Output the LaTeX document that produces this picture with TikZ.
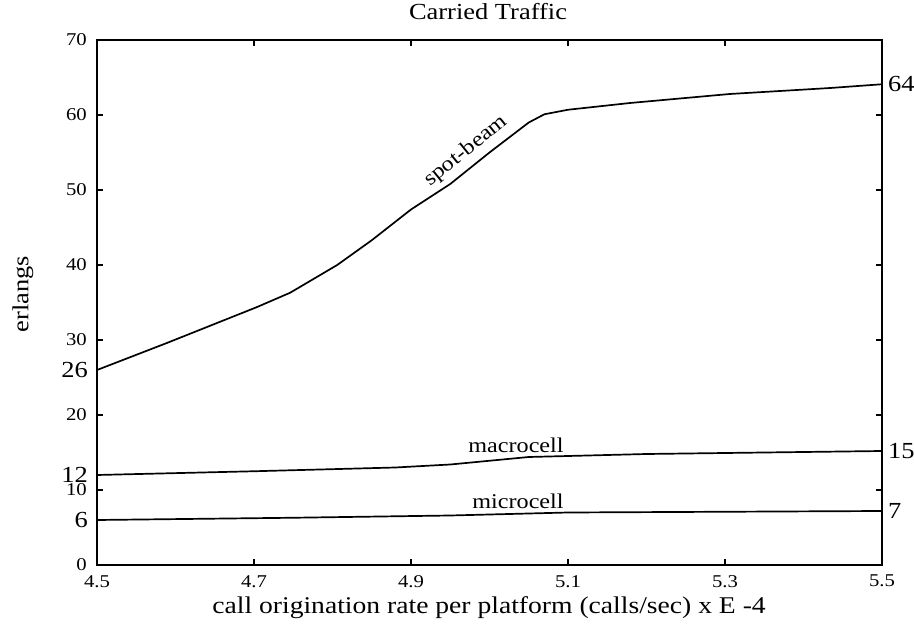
\documentclass[tikz,border=0pt]{standalone}
\usepackage{fontspec}
\setmainfont{Liberation Serif}[FakeStretch=1.15]
\begin{document}
\begin{tikzpicture}[x=1pt,y=1pt,
    ticklbl/.style={inner sep=0pt,font=\fontsize{18}{18}\selectfont},
    biglbl/.style={inner sep=0pt,font=\fontsize{23}{23}\selectfont},
    curvelbl/.style={inner sep=0pt,font=\fontsize{21}{21}\selectfont},
    curve/.style={line width=1.7pt,line join=round}]
  \useasboundingbox (0,0) rectangle (914,625);
  \begin{scope}[shift={(-3435.5pt,60pt)},x=785pt,y=7.5pt]
    \coordinate (ll) at (4.5,0);
    \coordinate (ur) at (5.5,70);
    \draw[line width=2pt] (ll) rectangle (ur);
    % ticks on all four sides
    \foreach \t in {10,20,...,60}{
      \draw[line width=1.7pt] (4.5,\t) -- ++(6pt,0);
      \draw[line width=1.7pt] (5.5,\t) -- ++(-6pt,0);
    }
    \foreach \t in {4.7,4.9,5.1,5.3}{
      \draw[line width=1.7pt] (\t,0) -- ++(0,6pt);
      \draw[line width=1.7pt] (\t,70) -- ++(0,-6pt);
    }
    % axis numbers
    \foreach \t in {0,10,...,70}{
      \node[ticklbl,anchor=east] (y\t) at ([xshift=-10pt]4.5,\t) {\t};
    }
    \foreach \t in {4.5,4.7,4.9,5.1,5.3,5.5}{
      \node[ticklbl,anchor=north] (x\t) at ([yshift=-10pt]\t,0) {\t};
    }
    % values where the curves start and end
    \foreach \id / \y in {26/26, 12/12, 6/6}{
      \node[biglbl,anchor=east] (v\id) at ([xshift=-9pt]4.5,\y) {\id};
    }
    \foreach \id / \y in {64/64.1, 15/15.2, 7/7.2}{
      \node[biglbl,anchor=west] (v\id) at ([xshift=6pt]5.5,\y) {\id};
    }
    % curves
    \draw[curve] plot coordinates {(4.5,26) (4.589,29.6) (4.704,34.4)
      (4.746,36.3) (4.806,40) (4.85,43.3) (4.9,47.4) (4.95,50.8)
      (5.0,55.0) (5.05,59.0) (5.07,60.1) (5.1,60.7)
      (5.179,61.6) (5.306,62.8) (5.434,63.6) (5.5,64.1)};
    \draw[curve] plot coordinates {(4.5,12) (4.7,12.5) (4.88,13.0)
      (4.95,13.4) (5.05,14.4) (5.2,14.8) (5.5,15.2)};
    \draw[curve] plot coordinates {(4.5,6) (4.75,6.3) (4.95,6.6)
      (5.1,7.0) (5.5,7.2)};
  \end{scope}
  % curve names
  \node[curvelbl,rotate=39] (beam) at (466,474) {spot-beam};
  \node[curvelbl] (macro) at (516,180) {macrocell};
  \node[curvelbl] (micro) at (518,124) {microcell};
  % titles
  \node[font=\fontsize{23}{23}\selectfont] (title) at (488,613) {Carried Traffic};
  \node[font=\fontsize{23}{23}\selectfont,rotate=90] (ylab) at (23,331) {erlangs};
  \node[font=\fontsize{24}{24}\selectfont] (xlab) at (489,17)
    {call origination rate per platform (calls/sec) x E -4};
\end{tikzpicture}
\end{document}
